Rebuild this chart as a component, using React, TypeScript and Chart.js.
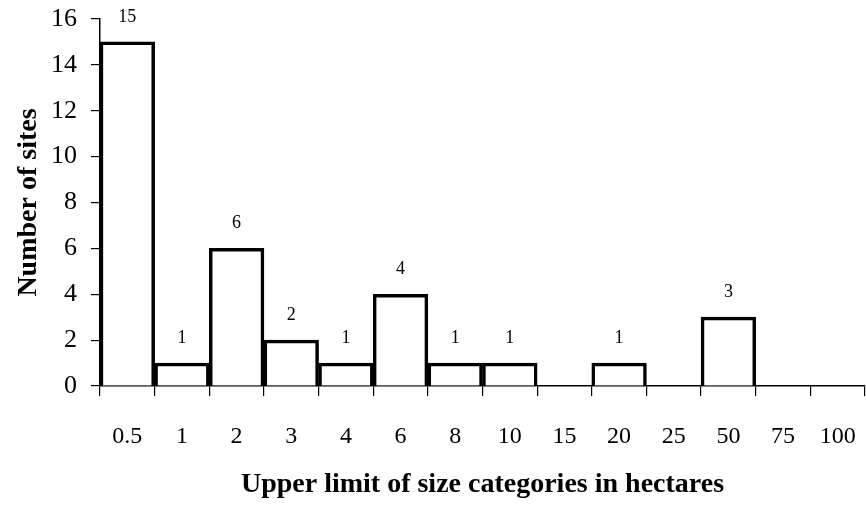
import React, { useEffect, useRef } from "react";
import { Chart, registerables } from "chart.js";

Chart.register(...registerables);

const categories = ["0.5", "1", "2", "3", "4", "6", "8", "10", "15", "20", "25", "50", "75", "100"];
const siteCounts = [15, 1, 6, 2, 1, 4, 1, 1, 0, 1, 0, 3, 0, 0];
const yTicks = [0, 2, 4, 6, 8, 10, 12, 14, 16];

const SERIF = "'Liberation Serif', 'Times New Roman', serif";

const valueLabels = {
  id: "valueLabels",
  afterDatasetsDraw(chart: any) {
    const ctx = chart.ctx;
    const meta = chart.getDatasetMeta(0);
    ctx.save();
    ctx.fillStyle = "#000";
    ctx.font = `18px ${SERIF}`;
    ctx.textAlign = "center";
    ctx.textBaseline = "middle";
    meta.data.forEach((bar: any, i: number) => {
      const v = siteCounts[i];
      if (v > 0) ctx.fillText(String(v), bar.x, bar.y - 25);
    });
    ctx.restore();
  },
};

export default function App() {
  const ref = useRef<HTMLCanvasElement>(null);
  useEffect(() => {
    document.body.style.margin = "0";
    const chart = new Chart(ref.current!, {
      type: "bar",
      data: {
        labels: categories,
        datasets: [
          {
            data: siteCounts,
            backgroundColor: "#ffffff",
            borderColor: "#000000",
            borderWidth: 3.5,
            borderSkipped: "start",
            barPercentage: 1,
            categoryPercentage: 1,
          },
        ],
      },
      options: {
        animation: false,
        responsive: false,
        layout: { padding: { top: 19, right: 1, left: 0, bottom: 0 } },
        plugins: { legend: { display: false }, tooltip: { enabled: false } },
        scales: {
          x: {
            offset: true,
            grid: {
              offset: true,
              drawOnChartArea: false,
              drawTicks: true,
              tickLength: 10,
              color: "#000",
              lineWidth: 1.2,
            },
            border: { display: true, color: "#000", width: 1.5 },
            ticks: {
              color: "#000",
              font: { family: SERIF, size: 24 },
              padding: 26,
              maxRotation: 0,
              autoSkip: false,
            },
            title: {
              display: true,
              text: "Upper limit of size categories in hectares",
              color: "#000",
              font: { family: SERIF, size: 28, weight: "bold" },
              padding: { top: 0, bottom: 3 },
            },
            afterFit(scale: any) {
              scale.height = 119;
              scale.paddingLeft = 0;
              scale.paddingRight = 0;
            },
          },
          y: {
            min: 0,
            max: 16,
            afterBuildTicks(scale: any) {
              scale.ticks = yTicks.map((v) => ({ value: v }));
            },
            grid: {
              drawOnChartArea: false,
              drawTicks: true,
              tickLength: 9,
              color: "#000",
              lineWidth: 1.2,
            },
            border: { display: true, color: "#000", width: 1.5 },
            ticks: {
              color: "#000",
              font: { family: SERIF, size: 26 },
              padding: 14,
            },
            title: {
              display: true,
              text: "Number of sites",
              color: "#000",
              font: { family: SERIF, size: 28, weight: "bold" },
              padding: { top: 12, bottom: 0 },
            },
            afterFit(scale: any) {
              scale.width = 100;
              scale.paddingTop = 0;
              scale.paddingBottom = 0;
            },
          },
        },
      },
      plugins: [valueLabels],
    });
    return () => chart.destroy();
  }, []);
  return (
    <div style={{ width: 866, height: 505 }}>
      <canvas ref={ref} width={866} height={505} style={{ display: "block" }} />
    </div>
  );
}
